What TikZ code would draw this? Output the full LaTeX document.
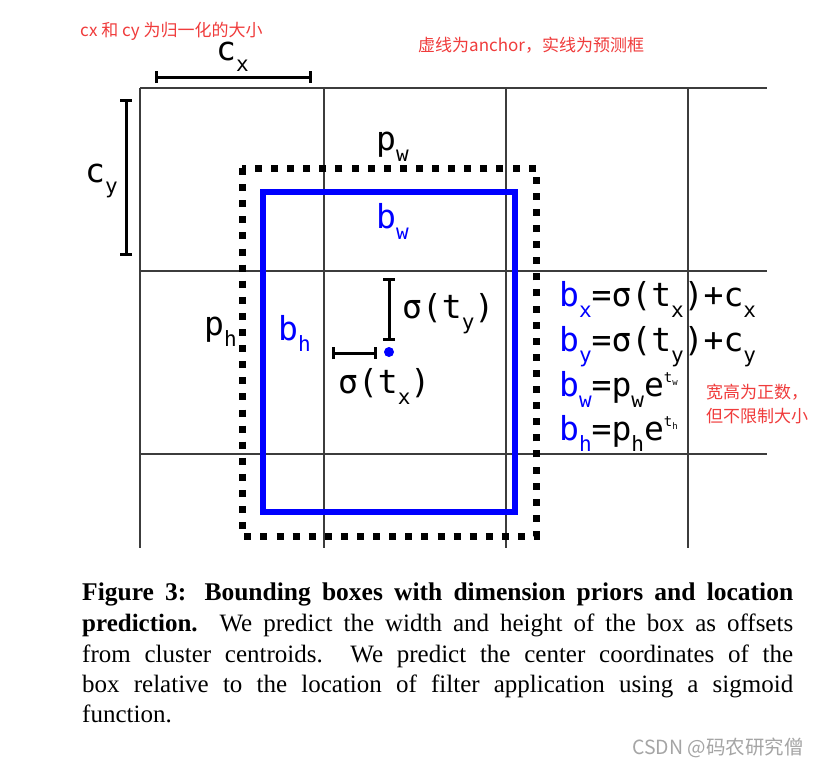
\documentclass[tikz,border=0pt]{standalone}
\usepackage{fontspec}
\usetikzlibrary{arrows.meta}
\newfontfamily\dmono{DejaVu Sans Mono}
\newfontfamily\capfont{Liberation Serif}
\newfontfamily\cjk{Noto Sans CJK SC}
\definecolor{annred}{RGB}{240,60,60}
\definecolor{pblue}{RGB}{0,0,255}
\definecolor{gridc}{RGB}{60,60,60}
\definecolor{wmark}{RGB}{165,165,165}
\newcommand\sbs[1]{\raisebox{-11pt}{\fontsize{21}{21}\selectfont #1}}
\newcommand\spt[1]{\raisebox{14pt}{\fontsize{14}{14}\selectfont t\raisebox{-3pt}{\fontsize{9}{9}\selectfont #1}}}
\tikzset{
  gridline/.style={draw=gridc, line width=1.4pt},
  dimline/.style={line width=3pt, {Bar[width=12pt,line width=3pt]}-{Bar[width=12pt,line width=3pt]}},
  big/.style={inner sep=0pt, anchor=base west, font=\dmono\fontsize{33}{33}\selectfont},
  ann/.style={inner sep=0pt, anchor=base west, text=annred, font=\cjk\fontsize{17}{17}\selectfont},
  capline/.style={inner sep=0pt, anchor=base west, font=\capfont\fontsize{25}{25}\selectfont},
}
\begin{document}
\begin{tikzpicture}[x=1pt,y=-1pt]
\useasboundingbox[fill=white] (0,0) rectangle (818,766);
% grid
\foreach \gx/\nm in {140/v0,324/v1,506/v2,688/v3}{
  \coordinate (\nm t) at (\gx,88); \coordinate (\nm b) at (\gx,548);
  \draw[gridline] (\nm t) -- (\nm b);
}
\foreach \gy/\nm in {88/h0,271/h1,454/h2}{
  \coordinate (\nm l) at (140,\gy); \coordinate (\nm r) at (767,\gy);
  \draw[gridline] (\nm l) -- (\nm r);
}
% anchor box (dotted)
\coordinate (anc1) at (242,168); \coordinate (anc2) at (536,536);
\draw[line width=7pt, dash pattern=on 7pt off 9.1pt] (anc1) rectangle (anc2);
% predicted box
\coordinate (pb1) at (263,192); \coordinate (pb2) at (515,512);
\draw[pblue, line width=6.5pt] (pb1) rectangle (pb2);
% dimension marks
\coordinate (cxa) at (155,77); \coordinate (cxb) at (312,77);
\draw[dimline] (cxa) -- (cxb);
\coordinate (cya) at (126,99); \coordinate (cyb) at (126,256);
\draw[dimline] (cya) -- (cyb);
\coordinate (tya) at (389,278); \coordinate (tyb) at (389,341);
\draw[dimline] (tya) -- (tyb);
\coordinate (txa) at (332,353); \coordinate (txb) at (377,353);
\draw[dimline] (txa) -- (txb);
\fill[pblue] (389,352) circle (5pt);
% labels
\node[big] (lcx) at (216,60) {c\sbs{x}};
\node[big] (lcy) at (85,182) {c\sbs{y}};
\node[big] (lpw) at (376,150) {p\sbs{w}};
\node[big, text=pblue] (lbw) at (376,228) {b\sbs{w}};
\node[big] (lph) at (204,335) {p\sbs{h}};
\node[big, text=pblue] (lbh) at (278,340) {b\sbs{h}};
\node[big] (lty) at (402,318) {σ(t\sbs{y})};
\node[big] (ltx) at (338,393) {σ(t\sbs{x})};
% formulas
\node[big] (f1) at (559,306) {\textcolor{pblue}{b\sbs{x}}=σ(t\sbs{x})+c\sbs{x}};
\node[big] (f2) at (559,351) {\textcolor{pblue}{b\sbs{y}}=σ(t\sbs{y})+c\sbs{y}};
\node[big] (f3) at (559,396) {\textcolor{pblue}{b\sbs{w}}=p\sbs{w}e\spt{w}};
\node[big] (f4) at (559,440) {\textcolor{pblue}{b\sbs{h}}=p\sbs{h}e\spt{h}};
% annotations
\node[ann] (a1) at (80,36) {cx 和 cy 为归一化的大小};
\node[ann] (a2) at (418,51) {虚线为anchor，实线为预测框};
\node[ann] (a3) at (706,398) {宽高为正数，};
\node[ann] (a4) at (706,422) {但不限制大小};
% caption
\node[capline] (c1) at (82,600) {\makebox[711pt][s]{\bfseries\fontsize{25.5}{25.5}\selectfont Figure 3: Bounding boxes with dimension priors and location}};
\node[capline] (c2) at (82,631) {\makebox[711pt][s]{\bfseries prediction.\mdseries\ \ We predict the width and height of the box as offsets}};
\node[capline] (c3) at (82,662) {\makebox[711pt][s]{from cluster centroids.\ \ We predict the center coordinates of the}};
\node[capline] (c4) at (82,692) {\makebox[711pt][s]{box relative to the location of filter application using a sigmoid}};
\node[capline] (c5) at (82,722) {function.};
% watermark
\node[inner sep=0pt, anchor=base west, text=wmark, font=\cjk\fontsize{19.5}{19.5}\selectfont] (wm) at (632,754) {CSDN @码农研究僧};
\end{tikzpicture}
\end{document}
